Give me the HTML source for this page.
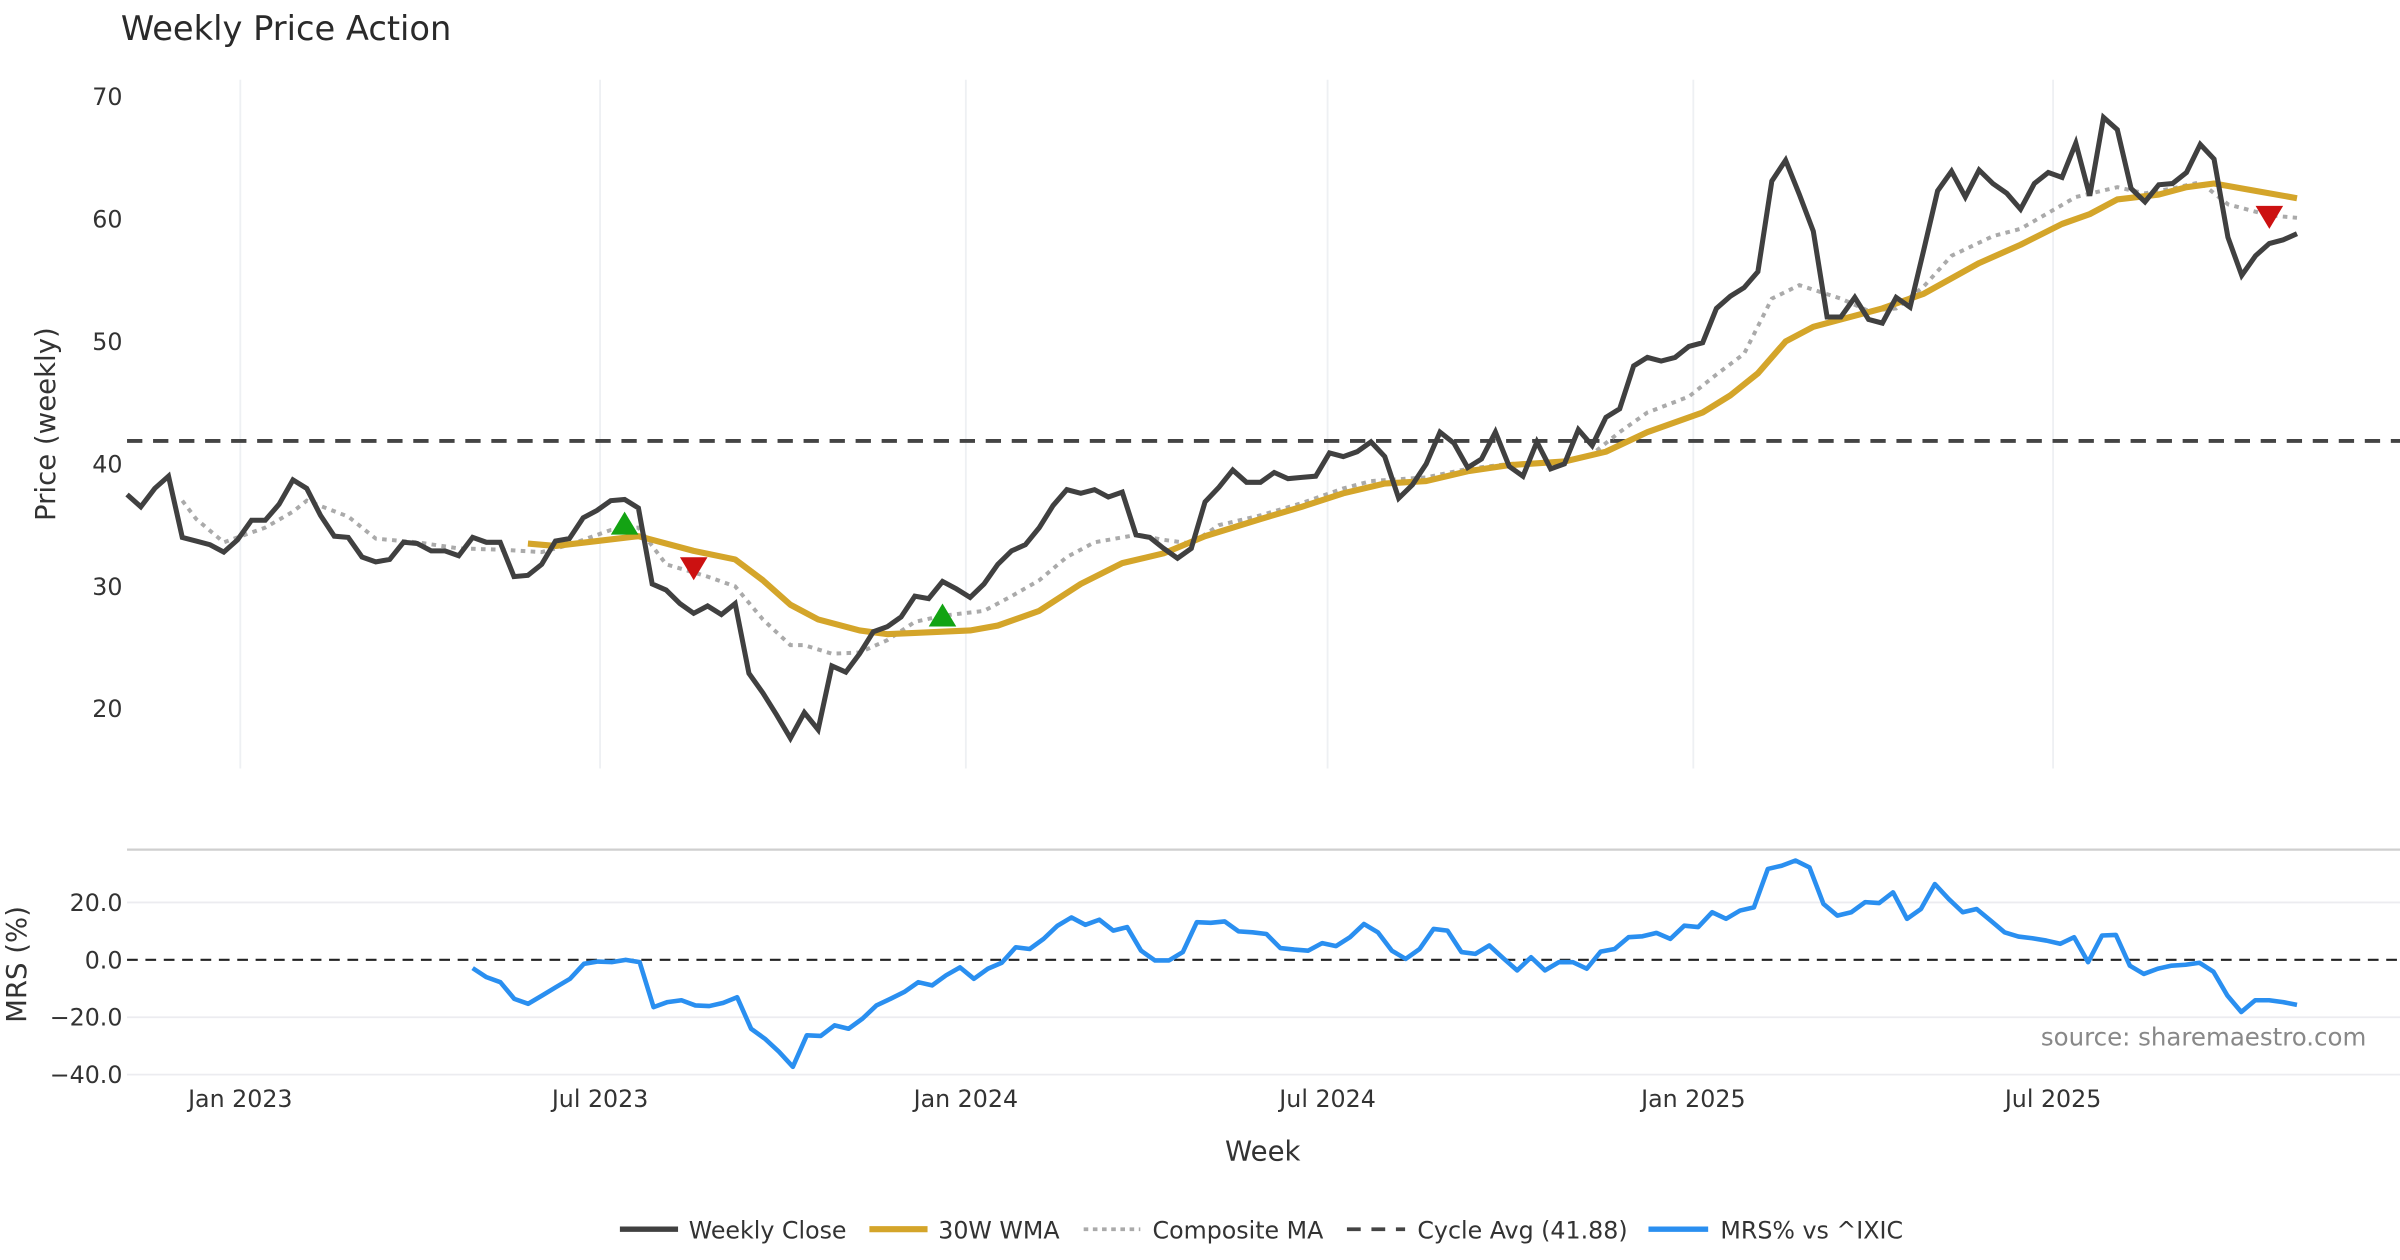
<!DOCTYPE html>
<html><head><meta charset="utf-8"><title>Weekly Price Action</title>
<style>
html,body{margin:0;padding:0;background:#fff;}
svg{display:block;font-family:"DejaVu Sans","Liberation Sans",sans-serif;}
</style></head>
<body>
<svg id="chart" width="2400" height="1260" viewBox="0 0 1568 823" xmlns="http://www.w3.org/2000/svg">
<rect x="0" y="0" width="1568" height="823" fill="#fff"/>
<text x="79" y="26" font-size="22" fill="#2a2a2a">Weekly Price Action</text>
<g id="grid"></g>
<g id="series"></g>
<g id="axes"></g>
<text transform="translate(36,277) rotate(-90)" text-anchor="middle" font-size="18" fill="#333">Price (weekly)</text>
<text transform="translate(17,630) rotate(-90)" text-anchor="middle" font-size="18" fill="#333">MRS (%)</text>
<text x="825" y="758" text-anchor="middle" font-size="18" fill="#333">Week</text>
<text x="1546" y="683" text-anchor="end" font-size="16" fill="#888">source: sharemaestro.com</text>
<g font-size="15.5" fill="#333">
  <g><line x1="405" y1="803" x2="443" y2="803" stroke="#404040" stroke-width="3.5"/><text x="450" y="809">Weekly Close</text></g>
  <g><line x1="568" y1="803" x2="606" y2="803" stroke="#d4a52a" stroke-width="4"/><text x="613" y="809">30W WMA</text></g>
  <g><line x1="708" y1="803" x2="745" y2="803" stroke="#aaa" stroke-width="2.5" stroke-dasharray="3,3"/><text x="753" y="809">Composite MA</text></g>
  <g><line x1="880" y1="803" x2="918" y2="803" stroke="#444" stroke-width="2.5" stroke-dasharray="9,7"/><text x="926" y="809">Cycle Avg (41.88)</text></g>
  <g><line x1="1077" y1="803" x2="1116" y2="803" stroke="#2a8ff0" stroke-width="3.5"/><text x="1124" y="809">MRS% vs ^IXIC</text></g>
</g>
</svg>
<script>
const closes = [37.5,36.5,38,39,34,33.7,33.4,32.8,33.8,35.4,35.4,36.7,38.7,38,35.8,34.1,34.0,32.4,32.0,32.2,33.6,33.5,32.9,32.9,32.5,34.0,33.6,33.6,30.8,30.9,31.8,33.7,33.9,35.6,36.2,37.0,37.1,36.4,30.2,29.7,28.6,27.8,28.4,27.7,28.6,22.9,21.3,19.5,17.6,19.7,18.3,23.5,23.0,24.5,26.3,26.7,27.5,29.2,29.0,30.4,29.8,29.1,30.2,31.8,32.9,33.4,34.8,36.6,37.9,37.6,37.9,37.3,37.7,34.2,34.0,33.1,32.3,33.1,36.9,38.1,39.5,38.5,38.5,39.3,38.8,38.9,39.0,40.9,40.6,41.0,41.8,40.6,37.2,38.3,40.0,42.6,41.7,39.7,40.4,42.6,39.8,39.0,41.8,39.6,40.0,42.8,41.5,43.8,44.5,48.0,48.7,48.4,48.7,49.6,49.9,52.7,53.7,54.4,55.7,63.1,64.8,62,59.0,52.0,52.0,53.6,51.8,51.5,53.6,52.8,57.5,62.3,63.9,61.8,64.0,62.9,62.1,60.8,62.9,63.8,63.4,66.2,61.9,68.3,67.3,62.5,61.4,62.8,62.9,63.8,66.1,64.9,58.5,55.4,57.0,58.0,58.3,58.8];
const wmaWeeks = [29,31,34,37,38,41,44,46,48,50,53,55,57,61,63,66,69,72,75,78,82,85,88,91,94,97,100,104,107,110,114,116,118,120,122,124,127,130,134,137,140,142,144,147,149,151,154,157];
const wmaValues = [33.5,33.3,33.7,34.1,33.8,32.9,32.2,30.5,28.5,27.3,26.4,26.1,26.2,26.4,26.8,28.0,30.2,31.9,32.7,34.1,35.5,36.5,37.6,38.4,38.6,39.4,39.9,40.2,41.0,42.6,44.2,45.6,47.4,50.0,51.2,51.8,52.7,53.9,56.4,57.9,59.6,60.4,61.6,62.0,62.6,62.9,62.3,61.7];
const compWeeks = [4,5,7,10,12,13,16,18,21,24,27,30,32,35,37,39,42,44,46,48,49,51,53,55,57,59,62,64,66,68,70,73,75,77,79,82,85,88,90,94,97,100,104,106,108,110,113,115,117,119,121,124,126,128,130,132,135,137,139,141,144,146,148,150,152,155,157];
const compValues = [37.0,35.5,33.6,34.8,36.1,37.0,35.7,33.9,33.6,33.1,33.0,32.8,33.4,34.6,34.8,31.8,30.8,30.0,27.3,25.2,25.2,24.5,24.6,25.6,27.1,27.6,28.0,29.2,30.5,32.4,33.6,34.2,33.8,33.5,35.0,35.8,36.8,38.0,38.6,38.9,39.6,40.0,40.2,40.8,42.6,44.2,45.5,47.3,49.0,53.5,54.6,53.5,52.5,52.7,54.5,57.0,58.6,59.2,60.5,61.8,62.6,62.1,62.5,63.0,61.2,60.3,60.1];
const mrsStartWeek = 25;
const mrsEndWeek = 157;
const mrsValues = [-2.9,-6,-7.8,-13.6,-15.3,-12.4,-9.5,-6.6,-1.4,-0.6,-0.8,0,-0.8,-16.5,-14.7,-14.1,-15.9,-16.1,-15,-13,-24,-27.5,-32,-37.3,-26.3,-26.5,-22.8,-24,-20.5,-15.9,-13.6,-11.2,-7.8,-8.9,-5.4,-2.6,-6.6,-3.1,-1,4.4,3.8,7.3,11.9,14.8,12.2,14,10.2,11.4,3.2,-0.2,-0.2,2.7,13.1,12.9,13.4,9.9,9.6,9,4.1,3.6,3.2,5.8,4.8,7.9,12.5,9.6,3.2,0.3,3.8,10.8,10.2,2.7,2.1,5,0.6,-3.7,0.9,-3.7,-0.8,-0.8,-3.1,2.9,3.8,7.9,8.2,9.4,7.3,11.9,11.4,16.6,14.3,17.2,18.3,31.7,32.8,34.6,32.2,19.5,15.4,16.6,20.1,19.8,23.5,14.3,17.7,26.4,21.2,16.6,17.7,13.7,9.6,8.1,7.5,6.7,5.6,7.9,-0.8,8.5,8.7,-2,-4.9,-3.1,-2,-1.7,-1,-4.1,-12.4,-18.2,-14.1,-14.1,-14.7,-15.7];
const buyWeeks = [36,59];
const buyValues = [35.1,27.6];
const sellWeeks = [41,155];
const sellValues = [31.5,60.2];
const cycleAvg = 41.88;
const priceTicks = [20,30,40,50,60,70];
const mrsTicks = [20,0,-20,-40];
const mrsTickLabels = ["20.0","0.0","\u221220.0","\u221240.0"];
const dateTicks = ["2023-01-01","2023-07-01","2024-01-01","2024-07-01","2025-01-01","2025-07-01"];
const dateTickLabels = ["Jan 2023","Jul 2023","Jan 2024","Jul 2024","Jan 2025","Jul 2025"];

const NS = "http://www.w3.org/2000/svg";
const n = closes.length;
const X0 = 83, STEP = 9.03;
const xw = i => X0 + i * STEP;
const yP = v => 623 - 8 * v;
const yM = v => 627 - 1.875 * v;
const ref = Date.UTC(2023,0,1);
const xd = s => { const p = s.split("-").map(Number); return 157 + (Date.UTC(p[0],p[1]-1,p[2]) - ref) / 86400000 * (474/365); };

function mk(tag, attrs, parent) {
  const el = document.createElementNS(NS, tag);
  for (const k in attrs) el.setAttribute(k, attrs[k]);
  parent.appendChild(el);
  return el;
}
const grid = document.getElementById("grid");
const series = document.getElementById("series");
const axes = document.getElementById("axes");

dateTicks.forEach((d, k) => {
  const x = xd(d);
  const g = mk("line", {x1:x, y1:52, x2:x, y2:502, stroke:"#eef0f3", "stroke-width":1.2}, grid);
  
  
  const t = mk("text", {x:x, y:723, "text-anchor":"middle", "font-size":15.5, fill:"#333"}, axes);
  t.textContent = dateTickLabels[k];
  
  
});
priceTicks.forEach(v => {
  const t = mk("text", {x:80, y:yP(v) + 5.5, "text-anchor":"end", "font-size":15.5, fill:"#333"}, axes);
  t.textContent = v;
  
  
});
const sep = mk("line", {x1:83, y1:555, x2:1568, y2:555, stroke:"#cfcfcf", "stroke-width":1.5}, grid);


mrsTicks.forEach((v, k) => {
  if (v !== 0) {
    const g = mk("line", {x1:83, y1:yM(v), x2:1568, y2:yM(v), stroke:"#ececf0", "stroke-width":1.2}, grid);
    
    
  }
  const t = mk("text", {x:80, y:yM(v) + 5.5, "text-anchor":"end", "font-size":15.5, fill:"#333"}, axes);
  t.textContent = mrsTickLabels[k];
  
  
});
const zl = mk("line", {x1:83, y1:yM(0), x2:1568, y2:yM(0), stroke:"#222", "stroke-width":1.4, "stroke-dasharray":"7,5"}, grid);



const ca = mk("line", {x1:83, y1:yP(cycleAvg), x2:1568, y2:yP(cycleAvg), stroke:"#444", "stroke-width":2.5, "stroke-dasharray":"10,7"}, series);



function path(pts) { return pts.map((p, i) => (i ? "L" : "M") + p[0].toFixed(1) + "," + p[1].toFixed(1)).join(""); }

const comp = mk("path", {d:path(compWeeks.map((w, i) => [xw(w), yP(compValues[i])])), fill:"none", stroke:"#aaa", "stroke-width":2.6, "stroke-dasharray":"3,3.5"}, series);


const wma = mk("path", {d:path(wmaWeeks.map((w, i) => [xw(w), yP(wmaValues[i])])), fill:"none", stroke:"#d4a52a", "stroke-width":4, "stroke-linejoin":"round"}, series);


const cl = mk("path", {d:path(closes.map((v, i) => [xw(i), yP(v)])), fill:"none", stroke:"#404040", "stroke-width":3.3, "stroke-linejoin":"miter"}, series);



buyWeeks.forEach((w, i) => {
  const x = xw(w), y = yP(buyValues[i]);
  const t = mk("polygon", {points:`${x-9},${y+7} ${x+9},${y+7} ${x},${y-8}`, fill:"#13a313"}, series);
  
  
});
sellWeeks.forEach((w, i) => {
  const x = xw(w), y = yP(sellValues[i]);
  const t = mk("polygon", {points:`${x-9},${y-7} ${x+9},${y-7} ${x},${y+8}`, fill:"#cc1111"}, series);
  
  
});

const mrsW = j => mrsStartWeek + j * (mrsEndWeek - mrsStartWeek) / (mrsValues.length - 1);
const mrs = mk("path", {d:path(mrsValues.map((v, j) => [xw(mrsW(j)), yM(v)])), fill:"none", stroke:"#2a8ff0", "stroke-width":3, "stroke-linejoin":"round"}, series);


</script>
</body></html>
